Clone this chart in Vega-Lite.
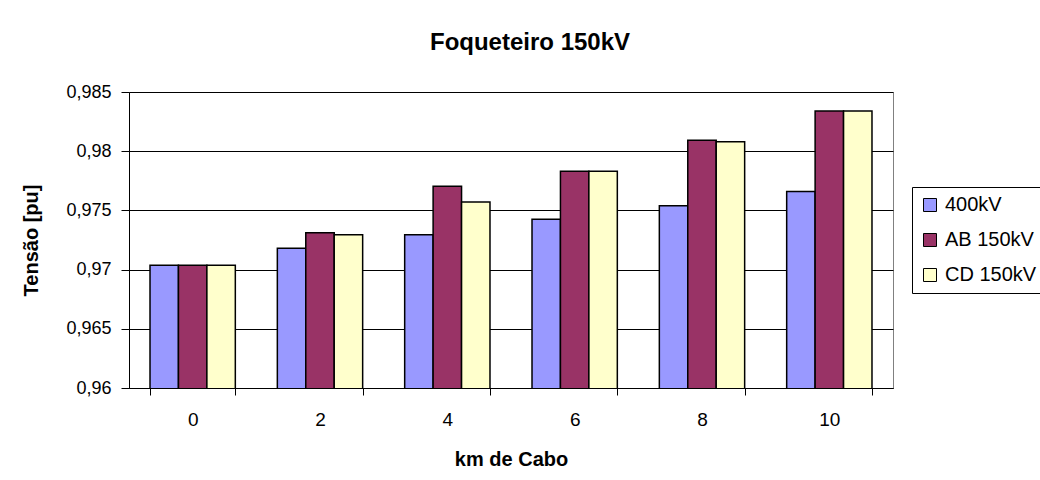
{
  "$schema": "https://vega.github.io/schema/vega-lite/v6.json",
  "autosize": "none",
  "width": 764,
  "height": 296,
  "padding": {"left": 129, "top": 92, "right": 147, "bottom": 92},
  "background": "white",
  "config": {
    "locale": {"number": {"decimal": ",", "thousands": ".", "grouping": [3], "currency": ["", ""]}},
    "font": "Liberation Sans",
    "view": {"stroke": "#808080", "strokeWidth": 1}
  },
  "title": {"text": "Foqueteiro 150kV", "fontSize": 24, "fontWeight": "bold", "color": "black", "font": "Liberation Sans", "anchor": "middle", "dx": 19, "offset": 28},
  "data": {"values": [
    {"km": "0", "serie": "400kV", "v": 0.97037},
    {"km": "0", "serie": "AB 150kV", "v": 0.97037},
    {"km": "0", "serie": "CD 150kV", "v": 0.97037},
    {"km": "2", "serie": "400kV", "v": 0.9718},
    {"km": "2", "serie": "AB 150kV", "v": 0.97312},
    {"km": "2", "serie": "CD 150kV", "v": 0.97295},
    {"km": "4", "serie": "400kV", "v": 0.97295},
    {"km": "4", "serie": "AB 150kV", "v": 0.97704},
    {"km": "4", "serie": "CD 150kV", "v": 0.97572},
    {"km": "6", "serie": "400kV", "v": 0.97425},
    {"km": "6", "serie": "AB 150kV", "v": 0.97831},
    {"km": "6", "serie": "CD 150kV", "v": 0.97831},
    {"km": "8", "serie": "400kV", "v": 0.9754},
    {"km": "8", "serie": "AB 150kV", "v": 0.98093},
    {"km": "8", "serie": "CD 150kV", "v": 0.98079},
    {"km": "10", "serie": "400kV", "v": 0.97659},
    {"km": "10", "serie": "AB 150kV", "v": 0.9834},
    {"km": "10", "serie": "CD 150kV", "v": 0.9834}
  ]},
  "mark": {"type": "bar", "stroke": "black", "strokeWidth": 1.5, "clip": true},
  "encoding": {
    "x": {
      "field": "km", "type": "nominal", "sort": ["0", "2", "4", "6", "8", "10"],
      "scale": {"paddingInner": 0.33, "paddingOuter": 0.165},
      "axis": {
        "title": "km de Cabo", "titleFontSize": 20, "titleFontWeight": "bold", "titleColor": "black", "titlePadding": 20,
        "labelAngle": 0, "labelFontSize": 19, "labelColor": "black", "labelPadding": 15,
        "tickBand": "extent", "tickColor": "black", "tickSize": 7, "domainColor": "black", "grid": false
      }
    },
    "xOffset": {"field": "serie", "type": "nominal", "scale": {"paddingInner": 0, "paddingOuter": 0}},
    "y": {
      "field": "v", "type": "quantitative",
      "scale": {"domain": [0.96, 0.985], "zero": false, "nice": false},
      "axis": {
        "values": [0.96, 0.965, 0.97, 0.975, 0.98, 0.985], "format": ".3~f",
        "title": "Tensão [pu]", "titleFontSize": 20, "titleFontWeight": "bold", "titleColor": "black", "titlePadding": 24,
        "labelFontSize": 18, "labelColor": "black", "labelPadding": 10,
        "tickColor": "black", "tickSize": 8, "domainColor": "black",
        "grid": true, "gridColor": "black", "gridOpacity": 1, "gridWidth": 1
      }
    },
    "color": {
      "field": "serie", "type": "nominal",
      "scale": {"domain": ["400kV", "AB 150kV", "CD 150kV"], "range": ["#9999FF", "#993366", "#FFFFCC"]},
      "legend": {
        "title": null, "orient": "none", "legendX": 783, "legendY": 95,
        "symbolType": "square", "symbolSize": 169, "symbolStrokeColor": "black", "symbolStrokeWidth": 1, "symbolOpacity": 1,
        "labelFontSize": 20, "labelColor": "black", "labelOffset": 5, "labelLimit": 200,
        "strokeColor": "black", "padding": 8, "rowPadding": 15, "fillColor": "white"
      }
    }
  }
}
